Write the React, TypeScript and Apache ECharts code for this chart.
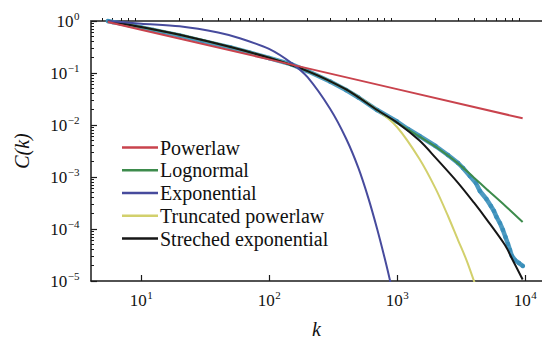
import { useEffect, useRef } from 'react';
import * as echarts from 'echarts';

// axis extents (data units)
const kMin = 4.06;
const kMax = 13600;
const cMin = 1e-5;
const cMax = 1;

const xMajorTicks = [10, 100, 1000, 10000];
const yMajorTicks = [1e-5, 1e-4, 1e-3, 1e-2, 1e-1, 1];

const dataK = [5.5, 6, 6.85, 8, 9, 10, 12.4, 15, 20, 30, 50, 70, 100, 150, 200, 300, 400, 500, 700, 1000, 1219, 1500, 2000, 2500, 3000, 3281, 3715, 4140, 4446, 5000, 5420, 5725, 6000, 6380, 6730, 7045, 7370, 7640, 7910, 8350, 8980, 9640];
const dataC = [1.0, 0.957, 0.903, 0.838, 0.791, 0.75, 0.671, 0.607, 0.526, 0.412, 0.309, 0.248, 0.194, 0.146, 0.109, 0.0687, 0.0471, 0.0338, 0.0194, 0.01167, 0.00838, 0.00614, 0.00395, 0.00265, 0.00186, 0.00149, 0.00104, 7.67e-4, 5.38e-4, 3.78e-4, 2.77e-4, 2.22e-4, 1.7e-4, 1.3e-4, 9.57e-5, 7.02e-5, 5.15e-5, 3.95e-5, 3.03e-5, 2.54e-5, 2.22e-5, 1.94e-5];

// fitted curves
const powerlawK = [5.5, 10, 100, 1000, 9600];
const powerlawC = [0.957, 0.68, 0.183, 0.049, 0.01345];

const lognormalK = [5.5, 10, 20, 50, 100, 200, 400, 700, 1000, 1500, 2000, 3000, 4000, 5000, 7000, 9600];
const lognormalC = [1.0, 0.767, 0.543, 0.315, 0.196, 0.109, 0.0482, 0.0194, 0.0111, 0.00598, 0.00383, 0.00183, 9.7e-4, 5.9e-4, 2.81e-4, 1.36e-4];

const exponentialK = [5.5, 10, 20, 40, 60, 100, 150, 200, 300, 400, 500, 600, 700, 800, 880, 920];
const exponentialC = [1.0, 0.89, 0.79, 0.6, 0.46, 0.29, 0.155, 0.083, 0.0205, 0.0055, 0.00148, 3.8e-4, 1.0e-4, 2.8e-5, 1.05e-5, 6e-6];

const truncatedK = [5.5, 10, 20, 50, 100, 200, 400, 700, 1000, 1500, 2000, 2500, 3000, 3500, 4000, 4300];
const truncatedC = [1.0, 0.767, 0.543, 0.315, 0.196, 0.109, 0.0482, 0.0194, 0.00916, 0.00222, 6.04e-4, 1.8e-4, 6.14e-5, 2.5e-5, 1.0e-5, 6e-6];

const stretchedK = [5.5, 10, 20, 50, 100, 200, 400, 700, 1000, 1500, 2000, 3000, 4000, 5000, 7000, 8000, 9600];
const stretchedC = [1.0, 0.767, 0.543, 0.315, 0.196, 0.109, 0.0482, 0.0194, 0.0112, 0.00501, 0.00236, 7.73e-4, 3.2e-4, 1.55e-4, 4.86e-5, 2.57e-5, 1.07e-5];

const seriesNames = ['Powerlaw', 'Lognormal', 'Exponential', 'Truncated powerlaw', 'Streched exponential'];
const seriesColors = ['#c9434d', '#3d8b4c', '#474b9d', '#d2d06c', '#161616'];

const FONT = 'Times New Roman';
const BASE = 17;
const SUP = 11;

const toPts = (ks: number[], cs: number[]) => ks.map((k, i) => [Math.log10(k), Math.log10(cs[i])]);

function minorLogTicks(lo: number, hi: number) {
  const out: number[] = [];
  for (let n = Math.floor(lo) - 1; n <= Math.ceil(hi); n++) {
    for (let m = 2; m <= 9; m++) {
      const v = n + Math.log10(m);
      if (v >= lo && v <= hi) out.push(v);
    }
  }
  return out;
}

const expText = (e: number) => (e < 0 ? '\u2212' + String(-e) : String(e));
const expWidth = (e: number) => (e < 0 ? 0.564 * SUP : 0) + 0.5 * SUP * String(Math.abs(e)).length;

function txt(x: number, y: number, text: string, size: number, align: string, italic = false) {
  const style: any = { text: text, fontFamily: FONT, fontSize: size, fill: '#111', align: align, verticalAlign: 'middle' };
  if (italic) style.fontStyle = 'italic';
  return { type: 'text', x: x, y: y, style: style };
}

export default function App() {
  const ref = useRef<HTMLDivElement>(null);

  useEffect(() => {
    if (!ref.current) return;
    const chart = echarts.init(ref.current, undefined, { renderer: 'svg' });
    const xLo = Math.log10(kMin);
    const xHi = Math.log10(kMax);
    const yLo = Math.log10(cMin);
    const yHi = Math.log10(cMax);
    const xMajor = xMajorTicks.map((v) => Math.log10(v));
    const yMajor = yMajorTicks.map((v) => Math.log10(v));

    const curves = [
      toPts(powerlawK, powerlawC),
      toPts(lognormalK, lognormalC),
      toPts(exponentialK, exponentialC),
      toPts(truncatedK, truncatedC),
      toPts(stretchedK, stretchedC),
    ];
    const drawOrder = [3, 1, 4, 2, 0];

    const lineSeries = drawOrder.map((i) => ({
      name: seriesNames[i],
      type: 'line',
      data: curves[i],
      smooth: i === 0 ? false : 0.3,
      showSymbol: false,
      symbol: 'none',
      color: seriesColors[i],
      lineStyle: { color: seriesColors[i], width: 2 },
      z: 3,
      clip: true,
    }));

    chart.setOption({
      animation: false,
      textStyle: { fontFamily: FONT },
      grid: { left: 91, right: 0, top: 21, bottom: 66 },
      xAxis: [
        {
          type: 'value',
          min: xLo,
          max: xHi,
          position: 'bottom',
          axisLine: { show: true, onZero: false, lineStyle: { color: '#1a1a1a', width: 1.5 } },
          axisTick: { show: true, inside: true, length: 6, customValues: xMajor, lineStyle: { color: '#1a1a1a', width: 1.2 } },
          axisLabel: { show: false },
          splitLine: { show: false },
        },
        {
          type: 'value',
          min: xLo,
          max: xHi,
          position: 'bottom',
          axisLine: { show: false },
          axisTick: { show: true, inside: true, length: 3, customValues: minorLogTicks(xLo, xHi), lineStyle: { color: '#1a1a1a', width: 1 } },
          axisLabel: { show: false },
          splitLine: { show: false },
        },
        {
          type: 'value',
          min: xLo,
          max: xHi,
          position: 'top',
          axisLine: { show: true, onZero: false, lineStyle: { color: '#555', width: 2 } },
          axisTick: { show: false },
          axisLabel: { show: false },
          splitLine: { show: false },
        },
      ],
      yAxis: [
        {
          type: 'value',
          min: yLo,
          max: yHi,
          interval: 1,
          position: 'left',
          axisLine: { show: true, onZero: false, lineStyle: { color: '#1a1a1a', width: 1.5 } },
          axisTick: { show: true, inside: true, length: 6, lineStyle: { color: '#1a1a1a', width: 1.2 } },
          axisLabel: { show: false },
          splitLine: { show: false },
        },
        {
          type: 'value',
          min: yLo,
          max: yHi,
          position: 'left',
          axisLine: { show: false },
          axisTick: { show: true, inside: true, length: 3, customValues: minorLogTicks(yLo, yHi), lineStyle: { color: '#1a1a1a', width: 1 } },
          axisLabel: { show: false },
          splitLine: { show: false },
        },
      ],
      series: [
        {
          name: 'Data',
          type: 'line',
          data: toPts(dataK, dataC),
          symbol: 'circle',
          symbolSize: 4.5,
          showSymbol: true,
          color: '#3a8fba',
          itemStyle: { color: '#3a8fba' },
          lineStyle: { color: '#3a8fba', width: 4.5, opacity: 0.9 },
          z: 2,
          clip: true,
        },
        ...lineSeries,
      ],
    });

    // tick labels, axis names and legend, placed through the chart's own scales
    const finder = { xAxisIndex: 0, yAxisIndex: 0 };
    const g: any[] = [];
    xMajor.forEach((v) => {
      const p = chart.convertToPixel(finder, [v, yLo]) as number[];
      const e = Math.round(v);
      const w = BASE + expWidth(e);
      const x0 = p[0] - w / 2;
      const yc = p[1] + 19;
      g.push(txt(x0, yc, '10', BASE, 'left'));
      g.push(txt(x0 + BASE + 0.5, yc - 5, expText(e), SUP, 'left'));
    });
    yMajor.forEach((v) => {
      const p = chart.convertToPixel(finder, [xLo, v]) as number[];
      const e = Math.round(v);
      const right = p[0] - 11.5;
      g.push(txt(right, p[1] - 5, expText(e), SUP, 'right'));
      g.push(txt(right - expWidth(e) - 0.5, p[1], '10', BASE, 'right'));
    });
    const bl = chart.convertToPixel(finder, [xLo, yLo]) as number[];
    const tr = chart.convertToPixel(finder, [xHi, yHi]) as number[];
    g.push(txt((bl[0] + tr[0]) / 2, bl[1] + 48, 'k', 20, 'center', true));
    g.push({
      type: 'text',
      x: 22,
      y: (bl[1] + tr[1]) / 2,
      rotation: Math.PI / 2,
      style: { text: 'C(k)', fontFamily: FONT, fontStyle: 'italic', fontSize: 20, fill: '#111', align: 'center', verticalAlign: 'middle' },
    });
    seriesNames.forEach((name, i) => {
      const yc = 147.5 + i * 22.75;
      g.push({ type: 'line', shape: { x1: 122, y1: yc, x2: 158, y2: yc }, style: { stroke: seriesColors[i], lineWidth: 2.5 } });
      g.push(txt(160, yc, name, 20, 'left'));
    });
    chart.setOption({ graphic: g });

    return () => chart.dispose();
  }, []);

  return <div ref={ref} style={{ width: 542, height: 347, position: 'absolute', left: 0, top: 0, background: '#fff' }} />;
}
